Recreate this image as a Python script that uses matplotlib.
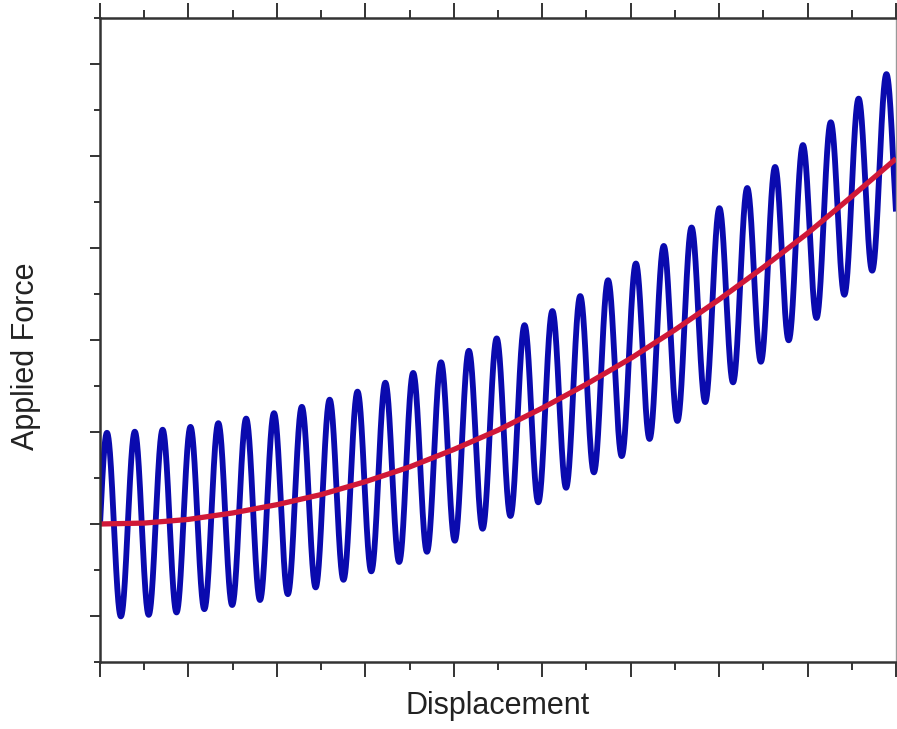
import matplotlib.pyplot as plt
import numpy as np

# mean (slowly rising) force, every half unit of displacement
displacement = [0.0, 0.5, 1.0, 1.5, 2.0, 2.5, 3.0, 3.5, 4.0, 4.5,
                5.0, 5.5, 6.0, 6.5, 7.0, 7.5, 8.0, 8.5, 9.0]
mean_force = [0.00, 0.01, 0.05, 0.12, 0.21, 0.32, 0.46, 0.62, 0.81, 1.02,
              1.26, 1.52, 1.80, 2.11, 2.44, 2.79, 3.16, 3.56, 3.97]

# cyclic part
cycle_amplitude = 1.0   # half peak-to-peak
cycles = 28.6           # number of oscillations over the full displacement

x_label = "Displacement"
y_label = "Applied Force"

BLUE = "#0a0aae"
RED = "#d01838"
INK = "#333333"


def oscillating_force(x):
    trend = np.polyval(np.polyfit(displacement, mean_force, 2), x)
    return trend + cycle_amplitude * np.sin(2 * np.pi * cycles * x / displacement[-1])


if __name__ == '__main__':
    plt.rcParams['font.family'] = ['Liberation Sans', 'DejaVu Sans']

    fig = plt.figure(figsize=(8.97, 7.29), dpi=100)
    ax = fig.add_axes([100 / 897, 67 / 729, 796 / 897, 644 / 729])

    x_fine = np.linspace(displacement[0], displacement[-1], 4000)
    ax.plot(x_fine, oscillating_force(x_fine), color=BLUE, lw=4.2, solid_capstyle='butt')
    ax.plot(displacement, mean_force, color=RED, lw=3.8, solid_capstyle='butt', solid_joinstyle='round')

    ax.set_xlim(0, 9)
    ax.set_ylim(-1.5, 5.5)
    ax.set_xticks(np.arange(0, 9.01, 1))
    ax.set_xticks(np.arange(0.5, 9, 1), minor=True)
    ax.set_yticks(np.arange(-1, 5.01, 1))
    ax.set_yticks(np.arange(-1.5, 5.51, 1), minor=True)

    ax.tick_params(which='both', direction='out', color=INK, width=1.4,
                   labelbottom=False, labelleft=False, top=True, right=False)
    ax.tick_params(axis='y', which='major', length=7.5)
    ax.tick_params(axis='y', which='minor', length=4)
    ax.tick_params(axis='x', which='major', length=10.5)
    ax.tick_params(axis='x', which='minor', length=5.5)

    for side in ['left', 'bottom', 'top']:
        ax.spines[side].set_linewidth(1.8)
        ax.spines[side].set_color(INK)
    ax.spines['right'].set_linewidth(1.0)
    ax.spines['right'].set_color('#999999')

    ax.set_xlabel(x_label, fontsize=22, color='#222222')
    ax.set_ylabel(y_label, fontsize=22, color='#222222')
    ax.xaxis.set_label_coords(0.5, -0.045)
    ax.yaxis.set_label_coords(-0.074, 0.475)

    fig.savefig("out.png", dpi=100)
